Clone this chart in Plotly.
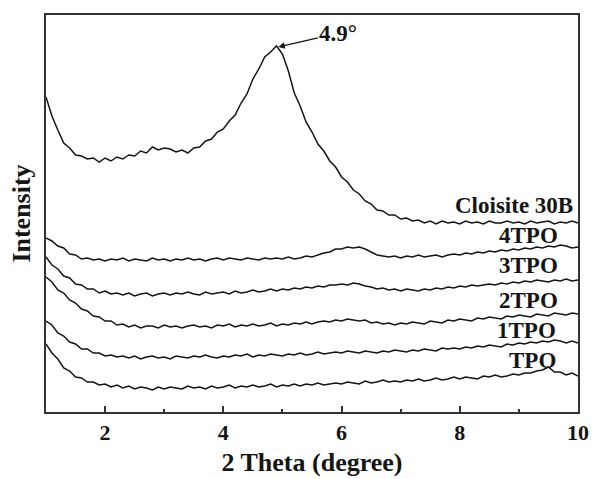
import numpy as np
import plotly.graph_objects as go

# 2-theta sampling grid (degrees)
two_theta = np.round(np.arange(1.0, 10.0001, 0.1), 1)

# Intensities (arbitrary units, curves already vertically offset as in the figure)
cloisite_30b = [
    315, 296, 282, 269, 264, 257, 256, 253, 254, 250,
    254, 251, 255, 253, 257, 256, 261, 259, 265, 262,
    264, 263, 260, 262, 259, 264, 265, 271, 273, 280,
    283, 291, 297, 309, 318, 333, 343, 355, 360, 366,
    358, 341, 319, 306, 290, 280, 268, 261, 251, 245,
    235, 230, 222, 218, 211, 208, 202, 201, 197, 197,
    193, 194, 191, 192, 189, 191, 188, 191, 189, 190,
    188, 191, 189, 190, 188, 191, 189, 189, 191, 189,
    190, 188, 191, 189, 190, 191, 188, 190, 189, 191,
    189,
]
tpo4 = [
    174, 171, 166, 164, 158, 157, 153, 154, 152, 153,
    151, 153, 152, 154, 151, 153, 152, 151, 154, 152,
    153, 151, 153, 152, 154, 152, 153, 151, 153, 154,
    152, 154, 153, 152, 154, 153, 152, 154, 153, 154,
    153, 155, 153, 154, 156, 155, 157, 159, 160, 163,
    163, 165, 164, 165, 163, 160, 157, 156, 155, 156,
    154, 156, 155, 157, 155, 156, 157, 155, 157, 158,
    157, 159, 158, 160, 159, 161, 160, 162, 161, 163,
    162, 164, 163, 165, 164, 166, 165, 167, 166, 164,
    165,
]
tpo3 = [
    155, 147, 143, 136, 134, 128, 127, 123, 123, 119,
    121, 118, 119, 117, 119, 116, 118, 119, 116, 118,
    119, 117, 119, 118, 120, 118, 117, 120, 118, 119,
    120, 118, 121, 119, 120, 122, 120, 121, 123, 121,
    123, 122, 124, 123, 125, 124, 126, 125, 127, 127,
    128, 127, 129, 128, 126, 125, 123, 124, 122, 123,
    121, 123, 122, 121, 123, 122, 124, 123, 125, 124,
    126, 125, 127, 126, 127, 128, 127, 129, 128, 130,
    129, 131, 130, 132, 131, 130, 132, 131, 133, 131,
    132,
]
tpo2 = [
    135, 130, 122, 119, 112, 109, 103, 101, 96, 95,
    91, 91, 87, 88, 85, 87, 84, 86, 86, 84,
    87, 85, 86, 84, 86, 87, 85, 86, 84, 87,
    86, 88, 85, 87, 86, 88, 86, 87, 89, 86,
    88, 87, 89, 88, 90, 88, 90, 91, 90, 92,
    91, 93, 92, 91, 92, 89, 90, 88, 89, 87,
    89, 88, 90, 89, 88, 91, 90, 89, 92, 91,
    93, 92, 91, 94, 93, 95, 94, 93, 96, 95,
    97, 96, 95, 98, 97, 96, 99, 98, 97, 99,
    98,
]
tpo1 = [
    91, 87, 79, 76, 70, 68, 63, 63, 59, 59,
    56, 57, 55, 56, 54, 56, 53, 55, 56, 54,
    55, 53, 56, 55, 54, 56, 55, 57, 55, 54,
    56, 55, 57, 56, 58, 55, 57, 56, 58, 57,
    56, 58, 57, 59, 57, 58, 60, 58, 59, 60,
    59, 61, 60, 59, 61, 60, 59, 61, 60, 62,
    61, 60, 62, 61, 63, 62, 61, 64, 63, 64,
    63, 65, 64, 66, 65, 67, 66, 65, 68, 67,
    69, 68, 70, 69, 71, 70, 72, 71, 69, 71,
    69,
]
tpo = [
    68, 59, 53, 44, 41, 35, 34, 30, 30, 27,
    28, 25, 27, 24, 26, 23, 25, 24, 22, 25,
    23, 25, 24, 23, 26, 24, 25, 23, 26, 24,
    25, 27, 24, 26, 25, 27, 25, 26, 28, 25,
    27, 26, 28, 26, 28, 27, 29, 27, 28, 29,
    28, 30, 29, 28, 31, 29, 30, 32, 30, 31,
    30, 32, 31, 33, 31, 32, 34, 32, 33, 35,
    33, 35, 34, 33, 36, 35, 37, 35, 36, 38,
    37, 39, 39, 41, 42, 45, 40, 40, 37, 39,
    36,
]

series_names = ["Cloisite 30B", "4TPO", "3TPO", "2TPO", "1TPO", "TPO"]
series_values = [cloisite_30b, tpo4, tpo3, tpo2, tpo1, tpo]

x_tick_values = [2, 4, 6, 8, 10]
x_tick_labels = ["2", "4", "6", "8", "10"]
x_minor_ticks = [3, 5, 7, 9]
peak_position = 4.93
peak_intensity = 365
peak_label = "4.9°"

FONT = "Liberation Serif"
INK = "#151515"

fig = go.Figure()
for name, vals in zip(series_names, series_values):
    fig.add_trace(go.Scatter(
        x=two_theta, y=vals, mode="lines", name=name,
        line=dict(color=INK, width=1.5), showlegend=False,
    ))

# series labels (right side)
label_pos = {
    "Cloisite 30B": (9.95, 207),
    "4TPO": (9.70, 177),
    "3TPO": (9.70, 147),
    "2TPO": (9.70, 112),
    "1TPO": (9.67, 82),
    "TPO": (9.67, 52),
}
for name in series_names:
    lx, ly = label_pos[name]
    fig.add_annotation(
        x=lx, y=ly, xref="x", yref="y", text=name, showarrow=False,
        xanchor="right", yanchor="middle",
        font=dict(family=FONT, size=23, color=INK, weight="bold"),
    )

fig.add_annotation(
    x=peak_position, y=peak_intensity, xref="x", yref="y",
    text=peak_label, showarrow=True, ax=60, ay=-14,
    arrowhead=2, arrowsize=1, arrowwidth=1.3, arrowcolor=INK, standoff=0,
    font=dict(family=FONT, size=23, color=INK, weight="bold"),
)

fig.update_layout(
    width=592, height=479,
    margin=dict(l=46, r=14, t=15, b=67),
    paper_bgcolor="white", plot_bgcolor="white",
    showlegend=False,
)
fig.update_xaxes(
    range=[1, 10], tickmode="array", tickvals=x_tick_values, ticktext=x_tick_labels,
    ticks="inside", ticklen=6, tickwidth=1.5, tickcolor="#333",
    minor=dict(tickmode="array", tickvals=x_minor_ticks, ticks="inside", ticklen=3,
               tickwidth=1.5, tickcolor="#333"),
    showline=True, linecolor="#333", linewidth=2, mirror=True,
    showgrid=False, zeroline=False, automargin=False,
    tickfont=dict(family=FONT, size=22, color=INK, weight="bold"),
    title=dict(text="2 Theta (degree)", standoff=8,
               font=dict(family=FONT, size=26, color=INK, weight="bold")),
)
fig.update_yaxes(
    range=[0, 397], showticklabels=False, ticks="",
    showline=True, linecolor="#333", linewidth=2, mirror=True,
    showgrid=False, zeroline=False, automargin=False,
    title=dict(text="Intensity", standoff=6,
               font=dict(family=FONT, size=26, color=INK, weight="bold")),
)

fig.write_html("out.html")
